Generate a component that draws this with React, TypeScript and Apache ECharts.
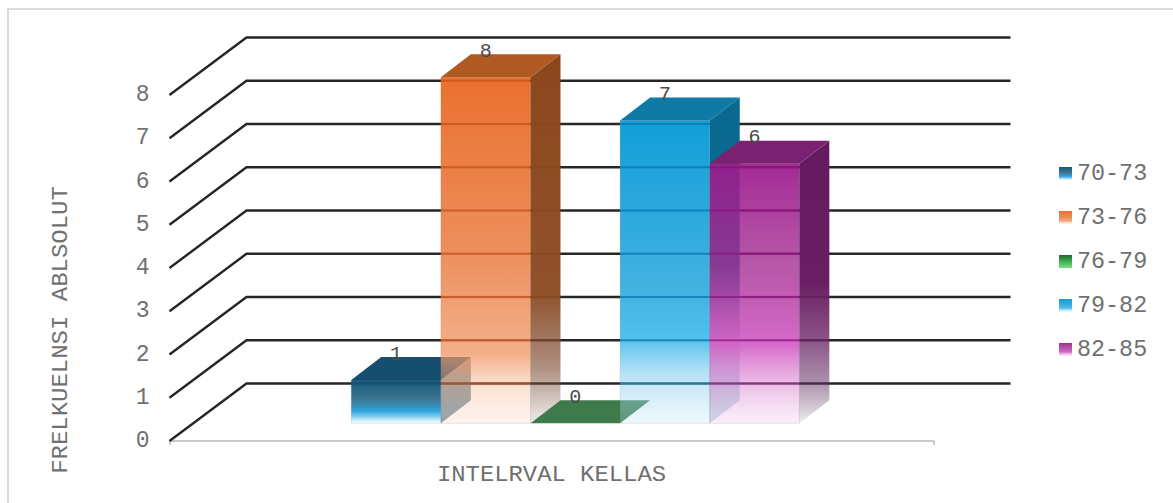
import React, { useEffect, useRef } from "react";
import * as echarts from "echarts";

const categories = ["Interval"];
const seriesNames = ["70-73", "73-76", "76-79", "79-82", "82-85"];
const seriesValues = [[1], [8], [0], [7], [6]];
const yTicks = [0, 1, 2, 3, 4, 5, 6, 7, 8];
const yAxisTitle = "FRELKUELNSI ABLSOLUT";
const xAxisTitle = "INTELRVAL KELLAS";

const FONT = "'Liberation Mono', monospace";
const WALL_DX = 77;
const WALL_DY = 57.5;
const BAR_SHIFT_X = 23.8;
const BAR_SHIFT_Y = 17.7;
const BAR_DX = 30;
const BAR_DY = 23;
const BAR_FRACTION = 0.1173;

type Stops = [number, string][];
const grad = (stops: Stops) =>
  new echarts.graphic.LinearGradient(0, 0, 0, 1, stops.map(([offset, color]) => ({ offset, color })));

const frontStops: Stops[] = [
  [[0, "rgb(24,88,124)"], [0.45, "rgba(62,118,146,1)"], [0.72, "rgba(44,165,220,1)"], [0.86, "rgba(130,205,240,0.9)"], [1, "rgba(255,255,255,0.8)"]],
  [[0, "rgba(234,112,46,1)"], [0.5, "rgba(236,140,88,0.98)"], [0.8, "rgba(240,150,100,0.76)"], [0.9, "rgba(245,175,135,0.35)"], [1, "rgba(248,190,160,0.18)"]],
  [[0, "#1d6b2c"], [1, "#6fe87e"]],
  [[0, "rgba(18,158,216,1)"], [0.55, "rgba(60,175,224,0.97)"], [0.72, "rgba(70,190,236,0.95)"], [0.83, "rgba(130,205,240,0.62)"], [1, "rgba(190,228,245,0.25)"]],
  [[0, "rgba(156,27,141,0.93)"], [0.38, "rgba(164,45,146,0.8)"], [0.7, "rgba(212,100,200,0.95)"], [0.85, "rgba(224,150,216,0.62)"], [1, "rgba(240,200,235,0.3)"]],
];
const topColors = ["#154e6e", "#b15923", "#3f7a4a", "#0f7aa6", "#7b2171"];
const sideStops: Stops[] = [
  [[0, "rgba(60,60,60,0.55)"], [1, "rgba(40,100,130,0.6)"]],
  [[0, "rgba(140,70,28,1)"], [0.65, "rgba(140,75,35,0.96)"], [0.85, "rgba(125,75,50,0.62)"], [1, "rgba(120,90,70,0.12)"]],
  [[0, "rgba(80,150,110,0.9)"], [1, "rgba(80,150,110,0.9)"]],
  [[0, "rgba(10,105,145,1)"], [0.6, "rgba(10,105,145,1)"], [0.75, "rgba(10,105,145,0.45)"], [1, "rgba(10,105,145,0.25)"]],
  [[0, "rgba(100,26,95,1)"], [0.5, "rgba(105,30,98,1)"], [0.7, "rgba(110,40,105,0.8)"], [0.85, "rgba(100,50,100,0.55)"], [1, "rgba(90,60,90,0.1)"]],
];
const seamColors = ["rgba(10,70,100,0.5)", "rgba(190,70,10,0.6)", "rgba(0,0,0,0)", "rgba(0,115,170,0.65)", "rgba(140,15,125,0.65)"];

const gridLineItem = (_: any, api: any) => {
  const [cx, y] = api.coord([0, api.value(1)]);
  const band = api.size([1, 0])[0];
  const x = cx - band / 2;
  return {
    type: "polyline",
    shape: { points: [[x, y], [x + WALL_DX, y - WALL_DY], [x + band + WALL_DX, y - WALL_DY]] },
    style: { stroke: "#262626", lineWidth: 2.4, fill: "none" },
  };
};

const barItem = (seriesIdx: number) => (_: any, api: any) => {
  const value = api.value(1);
  const [cx, y0] = api.coord([0, 0]);
  const yTop = api.coord([0, value])[1] - BAR_SHIFT_Y;
  const yBase = y0 - BAR_SHIFT_Y;
  const w = api.size([1, 0])[0] * BAR_FRACTION;
  const x0 = cx + BAR_SHIFT_X + (seriesIdx - seriesNames.length / 2) * w;
  const x1 = x0 + w;
  const children: any[] = [];
  if (value > 0) {
    children.push({
      type: "polygon",
      shape: { points: [[x0, yBase], [x1, yBase], [x1, yTop], [x0, yTop]] },
      style: { fill: grad(frontStops[seriesIdx]), stroke: "rgba(120,120,120,0.18)", lineWidth: 1 },
    });
    yTicks.forEach((t) => {
      const gy = api.coord([0, t])[1] - WALL_DY;
      if (gy > yTop + 1 && gy < yBase) {
        children.push({
          type: "line",
          shape: { x1: x0, y1: gy, x2: x1, y2: gy },
          style: { stroke: seamColors[seriesIdx], lineWidth: 2 },
        });
      }
    });
    children.push({
      type: "polygon",
      shape: { points: [[x1, yBase], [x1 + BAR_DX, yBase - BAR_DY], [x1 + BAR_DX, yTop - BAR_DY], [x1, yTop]] },
      style: { fill: grad(sideStops[seriesIdx]) },
    });
  }
  children.push({
    type: "polygon",
    shape: { points: [[x0, yTop], [x1, yTop], [x1 + BAR_DX, yTop - BAR_DY], [x0 + BAR_DX, yTop - BAR_DY]] },
    style: { fill: topColors[seriesIdx] },
  });
  children.push({
    type: "text",
    style: {
      text: String(value),
      x: (x0 + x1) / 2,
      y: yTop - BAR_DY - 3,
      align: "center",
      verticalAlign: "middle",
      fill: "#4a4a4a",
      font: `20px ${FONT}`,
    },
  });
  return { type: "group", children };
};

export default function App() {
  const ref = useRef<HTMLDivElement>(null);
  useEffect(() => {
    const chart = echarts.init(ref.current!, undefined, { renderer: "svg" });
    chart.setOption({
      animation: false,
      backgroundColor: "#fff",
      grid: { left: 169.5, right: 239.5, top: 95, bottom: 62 },
      xAxis: {
        type: "category",
        data: categories,
        axisLine: { show: true, lineStyle: { color: "#c9c9c9", width: 2 } },
        axisTick: { show: true, length: 4, lineStyle: { color: "#c9c9c9", width: 2 } },
        axisLabel: { show: false },
        splitLine: { show: false },
      },
      yAxis: {
        type: "value",
        min: 0,
        max: 8,
        interval: 1,
        axisLine: { show: false },
        axisTick: { show: false },
        splitLine: { show: false },
        axisLabel: { margin: 20, color: "#707070", fontFamily: "'Liberation Mono', monospace", fontSize: 23, padding: [2, 0, 0, 0] },
      },
      legend: {
        orient: "vertical",
        left: 1054,
        top: 157,
        data: seriesNames,
        icon: "rect",
        itemWidth: 13,
        itemHeight: 13,
        itemGap: 21,
        selectedMode: false,
        textStyle: { color: "#707070", fontFamily: "'Liberation Mono', monospace", fontSize: 23.4, lineHeight: 22 },
      },
      graphic: [
        { type: "rect", x: 8, y: 9, shape: { x: 0, y: 0, width: 1300, height: 600 }, style: { fill: "none", stroke: "#dcdcdc", lineWidth: 2 }, silent: true },
        { type: "text", x: 61, y: 330, rotation: Math.PI / 2, scaleX: 1.09, style: { text: yAxisTitle, align: "center", verticalAlign: "middle", fill: "#707070", font: `22px ${FONT}` } },
        { type: "text", x: 551.5, y: 475, scaleX: 1.085, style: { text: xAxisTitle, align: "center", verticalAlign: "middle", fill: "#707070", font: `22px ${FONT}` } },
      ],
      series: [
        {
          type: "custom",
          name: "grid",
          silent: true,
          renderItem: gridLineItem,
          data: yTicks.map((t) => [0, t]),
          encode: { x: 0, y: 1 },
          z: 1,
        },
        ...seriesNames.map((name, i) => ({
          type: "custom",
          name,
          renderItem: barItem(i),
          itemStyle: { color: grad(frontStops[i]) },
          data: seriesValues[i].map((v, c) => [c, v]),
          encode: { x: 0, y: 1 },
          z: 2 + i,
        })),
      ],
    });
    return () => chart.dispose();
  }, []);
  return <div ref={ref} style={{ position: "fixed", left: 0, top: 0, width: 1173, height: 503 }} />;
}
